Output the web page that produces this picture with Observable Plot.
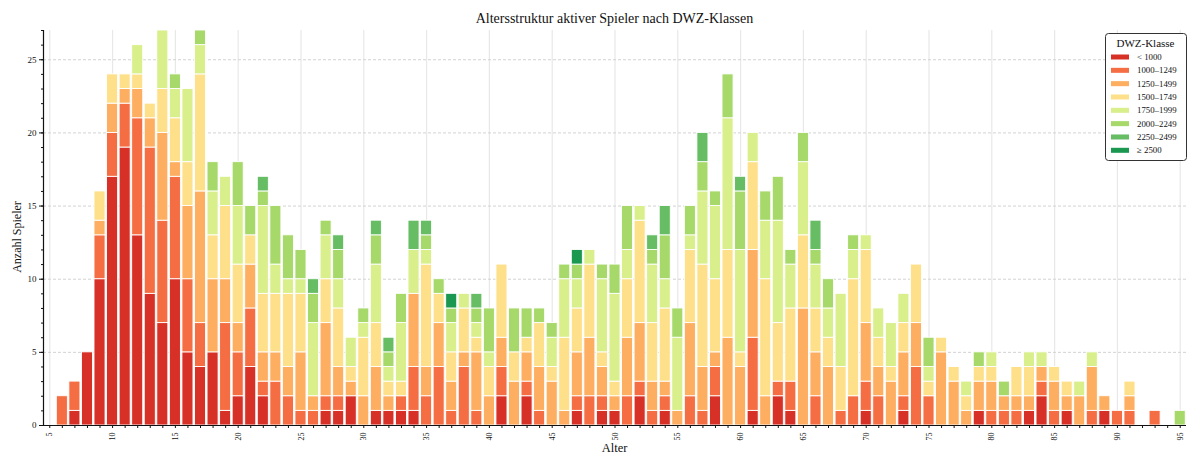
<!DOCTYPE html>
<html><head><meta charset="utf-8">
<script src="https://cdn.jsdelivr.net/npm/d3@7"></script>
<script src="https://cdn.jsdelivr.net/npm/@observablehq/plot@0.6"></script>
<style>body{margin:0;background:#fff;} #chart{width:1190px;height:455px;}</style>
</head><body><div id="chart"></div>
<script>
const ages = [5,6,7,8,9,10,11,12,13,14,15,16,17,18,19,20,21,22,23,24,25,26,27,28,29,30,31,32,33,34,35,36,37,38,39,40,41,42,43,44,45,46,47,48,49,50,51,52,53,54,55,56,57,58,59,60,61,62,63,64,65,66,67,68,69,70,71,72,73,74,75,76,77,78,79,80,81,82,83,84,85,86,87,88,89,90,91,92,93,94,95];
const classes = ["< 1000","1000–1249","1250–1499","1500–1749","1750–1999","2000–2249","2250–2499","≥ 2500"];
const colors = ["#d73027","#f46d43","#fdae61","#fee08b","#d9ef8b","#a6d96a","#66bd63","#1a9850"];

// counts per class, ages 5..95
const under1000 = [0,0,1,5,10,17,19,13,9,7, 10,5,4,5,1,2,4,2,0,0, 0,0,1,1,2,0,1,1,1,1, 0,0,0,0,0,0,2,0,2,0, 0,0,1,0,1,1,0,2,0,1, 0,0,0,2,0,0,1,0,2,1, 0,0,0,0,0,1,0,0,1,0, 0,0,0,0,1,0,0,0,1,2, 0,1,0,0,1,0,0,0,0,0, 0];
const r1000 = [0,2,2,0,3,3,3,8,10,7, 7,5,3,0,6,3,4,1,3,2, 1,1,1,1,0,0,0,0,1,3, 2,4,1,4,1,0,2,0,1,1, 0,0,1,2,1,0,2,1,1,1, 0,2,1,2,0,0,5,0,1,2, 0,2,0,1,2,2,2,0,1,4, 2,0,0,0,0,1,1,1,0,1, 1,0,0,1,0,1,1,0,1,0, 0];
const r1250 = [0,0,0,0,1,2,1,2,2,6, 1,5,9,5,3,2,3,2,2,2, 4,1,5,2,1,2,3,1,0,5, 2,3,2,1,4,2,2,3,2,3, 3,1,3,4,2,1,4,4,2,1, 1,5,3,1,6,4,6,2,0,0, 8,3,4,0,0,4,2,3,3,3, 0,5,3,1,2,2,1,1,1,1, 2,1,2,3,1,0,1,0,0,0, 0];
const r1500 = [0,0,0,0,2,2,1,1,1,3, 3,3,8,3,5,4,2,4,4,5, 4,0,3,4,1,4,3,1,1,0, 7,2,2,3,1,2,5,2,1,3, 1,5,3,5,1,1,4,7,4,5, 0,5,7,5,6,1,6,8,4,5, 5,3,2,3,8,5,2,1,2,4, 1,1,1,1,1,1,0,2,2,0, 1,1,0,0,0,0,1,0,0,0, 0];
const r1750 = [0,0,0,0,0,0,0,2,0,4, 2,5,2,3,2,4,0,6,2,1, 1,5,3,2,2,1,4,1,4,3, 1,0,2,1,1,1,0,0,0,0, 2,4,2,1,5,6,2,1,4,2, 5,1,5,5,9,7,2,4,7,3, 5,3,2,5,2,1,2,3,2,0, 1,0,0,1,0,1,0,0,1,1, 0,0,1,1,0,0,0,0,0,0, 0];
const r2000 = [0,0,0,0,0,0,0,0,0,0, 1,0,1,2,0,3,2,1,4,3, 2,2,1,2,0,1,2,1,2,0, 1,1,1,0,1,3,0,3,2,1, 1,1,1,0,1,2,3,0,1,3, 2,2,2,1,3,4,0,2,3,1, 2,1,2,0,1,0,0,0,0,0, 2,0,0,0,1,0,1,0,0,0, 0,0,0,0,0,0,0,0,0,0, 1];
const r2250 = [0,0,0,0,0,0,0,0,0,0, 0,0,0,0,0,0,0,1,0,0, 0,1,0,1,0,0,1,1,0,2, 1,0,0,0,1,0,0,0,0,0, 0,0,0,0,0,0,0,0,1,2, 0,0,2,0,0,1,0,0,0,0, 0,2,0,0,0,0,0,0,0,0, 0,0,0,0,0,0,0,0,0,0, 0,0,0,0,0,0,0,0,0,0, 0];
const r2500 = [0,0,0,0,0,0,0,0,0,0, 0,0,0,0,0,0,0,0,0,0, 0,0,0,0,0,0,0,0,0,0, 0,0,1,0,0,0,0,0,0,0, 0,0,1,0,0,0,0,0,0,0, 0,0,0,0,0,0,0,0,0,0, 0,0,0,0,0,0,0,0,0,0, 0,0,0,0,0,0,0,0,0,0, 0,0,0,0,0,0,0,0,0,0, 0];
const series = [under1000, r1000, r1250, r1500, r1750, r2000, r2250, r2500];

const xMajorTicks = [5,10,15,20,25,30,35,40,45,50,55,60,65,70,75,80,85,90,95];
const yMajorTicks = [0,5,10,15,20,25];
const yMinorTicks = [0,1,2,3,4,5,6,7,8,9,10,11,12,13,14,15,16,17,18,19,20,21,22,23,24,25,26,27];
const yGridTicks = [5,10,15,20,25];

const segs = [];
ages.forEach((age, i) => {
  let base = 0;
  series.forEach((s, k) => {
    const v = s[i];
    if (v > 0) segs.push({age, cls: classes[k], y1: base, y2: base + v});
    base += v;
  });
});

const SERIF = "'Liberation Serif', 'DejaVu Serif', serif";
const plot = Plot.plot({
  width: 1190, height: 455,
  marginLeft: 43, marginRight: 4, marginTop: 30, marginBottom: 30,
  style: {fontFamily: SERIF, background: "white", color: "#111"},
  x: {domain: [4.5, 95.5]},
  y: {domain: [0, 27]},
  color: {domain: classes, range: colors},
  marks: [
    Plot.gridX({ticks: xMajorTicks, stroke: "#e8e8e8", strokeOpacity: 1, strokeWidth: 1.2}),
    Plot.gridY({ticks: yGridTicks, stroke: "#d2d2d2", strokeOpacity: 1, strokeDasharray: "3,2"}),
    Plot.rect(segs, {x1: d => d.age - 0.44, x2: d => d.age + 0.44, y1: "y1", y2: "y2", fill: "cls", stroke: "white", strokeWidth: 0.9}),
    Plot.axisX({ticks: ages, tickSize: 3, tickPadding: 4, tickRotate: -90, fontSize: 8,
      tickFormat: d => d % 5 === 0 ? String(d) : "", label: null}),
    Plot.axisY({ticks: yMinorTicks, tickSize: 2, tickFormat: () => "", label: null}),
    Plot.axisY({ticks: yMajorTicks, tickSize: 4, tickPadding: 3, fontSize: 9, label: null}),
    Plot.ruleY([0], {stroke: "#111", strokeWidth: 1.2}),
    Plot.ruleX([4.5], {stroke: "#111", strokeWidth: 1.2})
  ]
});
document.getElementById("chart").appendChild(plot);

const svg = d3.select(plot);
svg.append("text").attr("x", 614.5).attr("y", 23).attr("text-anchor", "middle")
  .style("font-family", SERIF).style("font-size", "14px").attr("fill", "#111")
  .text("Altersstruktur aktiver Spieler nach DWZ-Klassen");
svg.append("text").attr("transform", "translate(20.5,237) rotate(-90)").attr("text-anchor", "middle")
  .style("font-family", SERIF).style("font-size", "12px").attr("fill", "#111")
  .text("Anzahl Spieler");
svg.append("text").attr("x", 614.5).attr("y", 452).attr("text-anchor", "middle")
  .style("font-family", SERIF).style("font-size", "12.5px").attr("fill", "#111")
  .text("Alter");

const lg = svg.append("g");
lg.append("rect").attr("x", 1105.5).attr("y", 33.5).attr("width", 81).attr("height", 127)
  .attr("rx", 3).attr("fill", "white").attr("stroke", "#333").attr("stroke-width", 1);
lg.append("text").attr("x", 1145.5).attr("y", 47).attr("text-anchor", "middle")
  .style("font-family", SERIF).style("font-size", "11px").attr("fill", "#111").text("DWZ-Klasse");
classes.forEach((c, i) => {
  const cy = 57 + i * 13.33;
  lg.append("rect").attr("x", 1111).attr("y", cy - 2.5).attr("width", 18).attr("height", 5).attr("fill", colors[i]);
  lg.append("text").attr("x", 1137).attr("y", cy + 3).attr("text-anchor", "start")
    .style("font-family", SERIF).style("font-size", "8.8px")
    .attr("fill", "#111").text(c);
});
</script>
</body></html>
